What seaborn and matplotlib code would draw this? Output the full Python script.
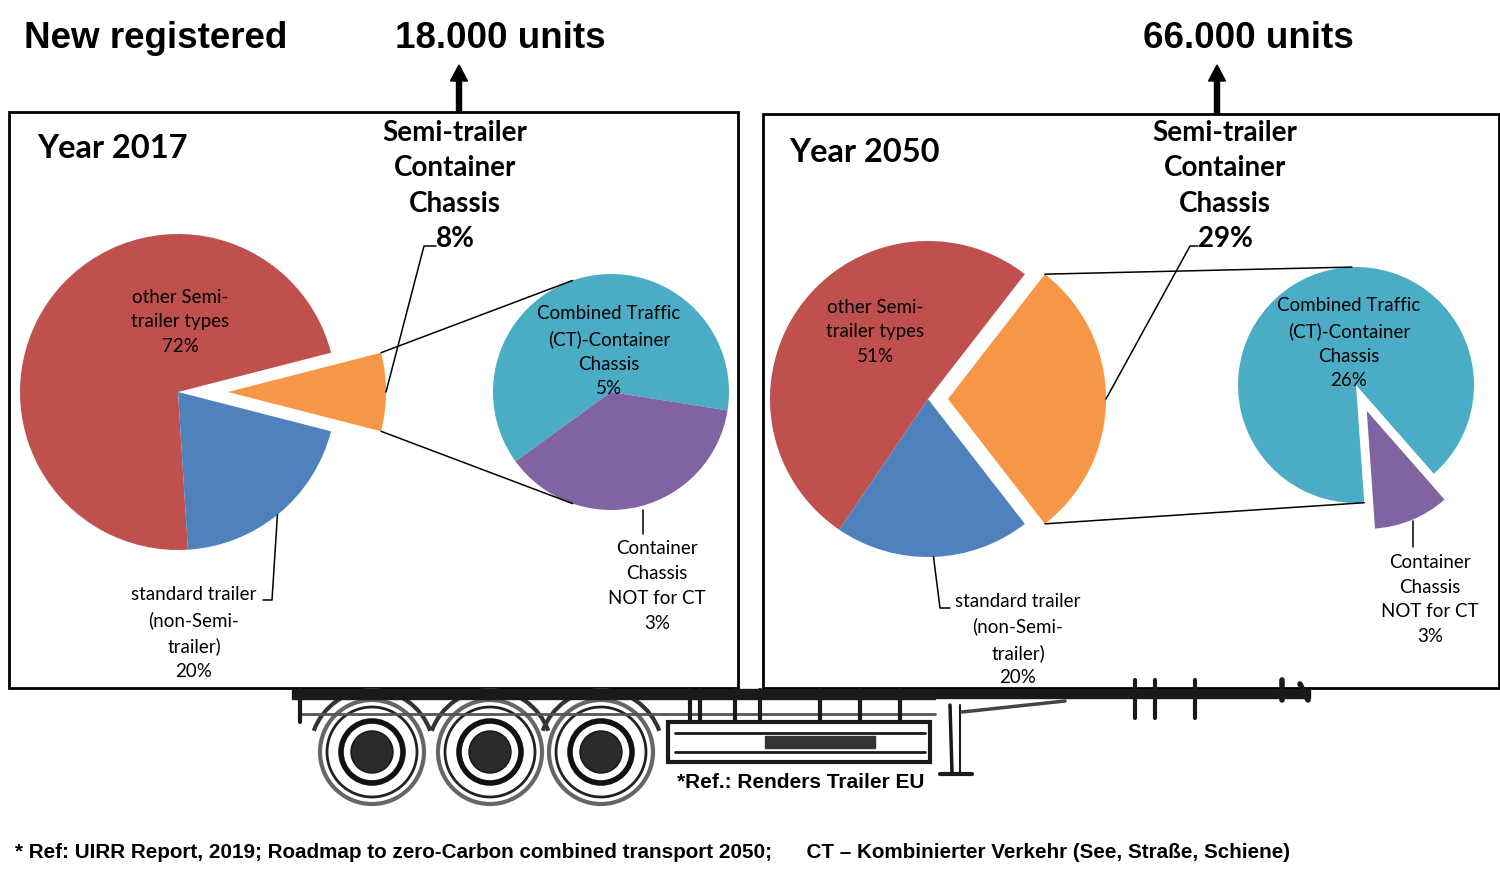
import numpy as np
import matplotlib
matplotlib.use("Agg")
import matplotlib.pyplot as plt
import matplotlib.patches as mpatches
import seaborn as sns

sns.set_theme(style="white")
plt.rcParams['font.family'] = ['Lato', 'DejaVu Sans']
plt.rcParams['text.color'] = 'black'

# ---- data ----
years = ['Year 2017', 'Year 2050']
units = ['18.000 units', '66.000 units']
main_labels = ['Semi-trailer\nContainer\nChassis', 'other Semi-\ntrailer types',
               'standard trailer\n(non-Semi-\ntrailer)']
share_2017 = [8, 72, 20]
share_2050 = [29, 51, 20]
sub_labels = ['Combined Traffic\n(CT)-Container\nChassis', 'Container\nChassis\nNOT for CT']
sub_2017 = [5, 3]
sub_2050 = [26, 3]

main_colors = sns.color_palette(['#F79646', '#C0504D', '#4F81BD'])
sub_colors = sns.color_palette(['#4BACC6', '#8064A2'])

W, H = 1500, 877
fig = plt.figure(figsize=(15, 8.77), dpi=100)
ax = fig.add_axes([0, 0, 1, 1])

NARROW = ['Liberation Sans Narrow', 'Liberation Sans', 'DejaVu Sans']
LBL = 13.5


def P(x, y):
    # pixel (y down) -> data (y up)
    return x, H - y


def edge(c, r, ang):
    return c[0] + r * np.cos(np.radians(ang)), c[1] + r * np.sin(np.radians(ang))


def panel(shares, subs, box, cmain, rmain, expl_main, csub, rsub, sub_start, expl_sub,
          sub_ang, lbl):
    # frame
    x0, y0, x1, y1 = box
    ax.add_patch(mpatches.Rectangle(P(x0, y1), x1 - x0, y1 - y0, fill=False,
                                    edgecolor='black', linewidth=2, zorder=1))
    cm = P(*cmain)
    half = shares[0] * 3.6 / 2
    ax.pie(shares, colors=main_colors, startangle=-half, counterclock=True,
           center=cm, radius=rmain, explode=[expl_main, 0, 0],
           wedgeprops=dict(linewidth=0), frame=False)
    cs = P(*csub)
    ax.pie(subs, colors=sub_colors, startangle=sub_start, counterclock=False,
           center=cs, radius=rsub, explode=[0, expl_sub],
           wedgeprops=dict(linewidth=0), frame=False)
    # connector lines from exploded wedge to the secondary pie
    ce = (cm[0] + expl_main, cm[1])
    for s, a2 in zip([1, -1], sub_ang):
        p1 = edge(ce, rmain, s * half)
        p2 = edge(cs, rsub, a2)
        ax.plot([p1[0], p2[0]], [p1[1], p2[1]], color='black', linewidth=1.1, zorder=3)
    # header label + leader
    tip = edge(ce, rmain, 0)
    hx, hy = lbl['head']
    ax.text(*P(hx, hy), main_labels[0] + '\n%d%%' % shares[0], ha='center', va='center',
            fontsize=20, fontweight='bold', linespacing=1.45, zorder=4)
    kx, ky, kx2 = lbl['head_leader']
    ax.plot([tip[0], P(kx, ky)[0], P(kx2, ky)[0]], [tip[1], P(kx, ky)[1], P(kx2, ky)[1]],
            color='black', linewidth=1.1)
    # other semi-trailer types
    ax.text(*P(*lbl['other']), main_labels[1] + '\n%d%%' % shares[1], ha='center',
            va='center', fontsize=LBL, linespacing=1.55, zorder=4)
    # standard trailer
    ax.text(*P(*lbl['std']), main_labels[2] + '\n%d%%' % shares[2], ha='center',
            va='center', fontsize=LBL, linespacing=1.55, zorder=4)
    b = edge(cm, rmain, lbl['std_ang'])
    (ax2, ay2), (ax3, ay3) = lbl['std_leader']
    ax.plot([b[0], P(ax2, ay2)[0], P(ax3, ay3)[0]], [b[1], P(ax2, ay2)[1], P(ax3, ay3)[1]],
            color='black', linewidth=1.1)
    # secondary labels
    ax.text(*P(*lbl['ct']), sub_labels[0] + '\n%d%%' % subs[0], ha='center', va='center',
            fontsize=LBL, linespacing=1.55, zorder=4)
    ax.text(*P(*lbl['nct']), sub_labels[1] + '\n%d%%' % subs[1], ha='center', va='center',
            fontsize=LBL, linespacing=1.55, zorder=4)
    lx, ly0, ly1 = lbl['nct_leader']
    ax.plot([P(lx, ly0)[0]] * 2, [P(lx, ly0)[1], P(lx, ly1)[1]], color='black', linewidth=1.1)


panel(share_2017, sub_2017, (9, 112, 738, 688), (178, 392), 158, 50, (611, 392), 118,
      216, 0, (109, -109),
      dict(head=(455, 186), head_leader=(424, 246, 436), other=(180, 322),
           std=(194, 633), std_ang=-51, std_leader=((272, 600), (263, 600)),
           ct=(609, 351), nct=(657, 586), nct_leader=(643, 510, 534)))

panel(share_2050, sub_2050, (763, 114, 1499, 688), (928, 399), 158, 20, (1356, 385), 118,
      274, 28, (92, -86),
      dict(head=(1225, 186), head_leader=(1190, 246, 1198), other=(875, 332),
           std=(1018, 639.5), std_ang=-88, std_leader=((940, 608), (950, 608)),
           ct=(1349, 343), nct=(1430, 599.5), nct_leader=(1413, 521, 547)))

# year labels
ax.text(*P(37, 149), years[0], ha='left', va='center', fontsize=23.5, fontweight='bold')
ax.text(*P(789, 153), years[1], ha='left', va='center', fontsize=23.5, fontweight='bold')

# top titles and arrows
ax.text(*P(24, 38), 'New registered', ha='left', va='center', fontsize=26.5,
        fontweight='bold', family=NARROW)
ax.text(*P(500, 38), units[0], ha='center', va='center', fontsize=26.5,
        fontweight='bold', family=NARROW)
ax.text(*P(1248, 38), units[1], ha='center', va='center', fontsize=26.5,
        fontweight='bold', family=NARROW)
for ax_x, y_from in [(459, 111), (1217, 113)]:
    sx, sy = P(ax_x, y_from)
    ax.add_patch(mpatches.FancyArrow(sx, sy, 0, y_from - 65, width=5, head_width=17,
                                     head_length=16, length_includes_head=True,
                                     color='black', zorder=5))

# ---- rough trailer silhouette ----
ink = '#1a1a1a'
ax.add_patch(mpatches.Rectangle(P(292, 699), 643, 10, color=ink, zorder=2))
ax.add_patch(mpatches.Rectangle(P(935, 698), 375, 8, color=ink, zorder=2))
ax.plot(*zip(P(300, 714), P(935, 714)), color='#555555', linewidth=2)
for wx in [372, 490, 601]:
    c = P(wx, 752)
    ax.add_patch(mpatches.Circle(c, 52, facecolor='white', edgecolor='#666666', linewidth=3))
    ax.add_patch(mpatches.Circle(c, 45, facecolor='white', edgecolor='#222222', linewidth=2))
    ax.add_patch(mpatches.Circle(c, 31, facecolor='white', edgecolor='#111111', linewidth=4))
    ax.add_patch(mpatches.Circle(c, 21, facecolor='#2b2b2b', edgecolor='#111111', linewidth=1))
    ax.add_patch(mpatches.Arc(c, 124, 124, theta1=20, theta2=160, edgecolor='#333333',
                              linewidth=3))
ax.add_patch(mpatches.Rectangle(P(668, 762), 262, 40, fill=False, edgecolor=ink, linewidth=3))
ax.plot(*zip(P(675, 733), P(925, 733)), color=ink, linewidth=2)
ax.plot(*zip(P(675, 752), P(925, 752)), color=ink, linewidth=2)
ax.add_patch(mpatches.Rectangle(P(765, 748), 110, 12, color='#333333'))
for px_ in [300, 690, 700, 735, 760, 820, 860, 900]:
    ax.plot(*zip(P(px_, 690), P(px_, 722)), color=ink, linewidth=3)
ax.plot(*zip(P(950, 705), P(952, 772)), color=ink, linewidth=2.5)
ax.plot(*zip(P(960, 705), P(960, 772)), color=ink, linewidth=1.5)
ax.plot(*zip(P(940, 774), P(972, 774)), color=ink, linewidth=3)
ax.plot(*zip(P(962, 712), P(1065, 701)), color='#444444', linewidth=2.5)
for px_ in [1135, 1155, 1195]:
    ax.plot(*zip(P(px_, 680), P(px_, 718)), color=ink, linewidth=3)
ax.plot(*zip(P(1282, 680), P(1282, 700)), color=ink, linewidth=4)
ax.plot(*zip(P(1300, 684), P(1308, 700)), color=ink, linewidth=4)

ax.text(*P(801, 782), '*Ref.: Renders Trailer EU', ha='center', va='center',
        fontsize=15, fontweight='bold', family=NARROW, zorder=6)

ax.text(*P(15, 852), '* Ref: UIRR Report, 2019; Roadmap to zero-Carbon combined transport 2050;'
        '      CT \u2013 Kombinierter Verkehr (See, Stra\u00dfe, Schiene)',
        ha='left', va='center', fontsize=14.9, fontweight='bold', family=NARROW)

ax.set_xlim(0, W)
ax.set_ylim(0, H)
ax.set_aspect('auto')
ax.axis('off')

fig.savefig('out.png', dpi=100, facecolor='white')
